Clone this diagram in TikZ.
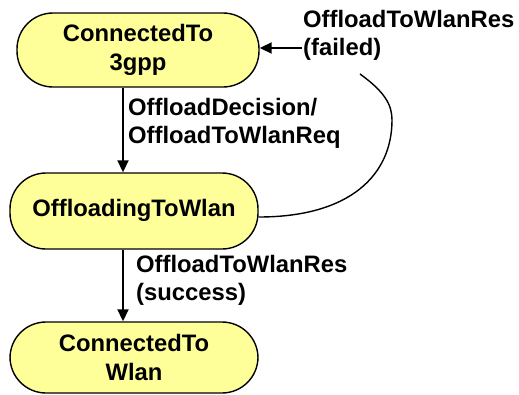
\documentclass[tikz,border=0pt]{standalone}
\usepackage{fontspec}
\setmainfont{Liberation Sans}
\usetikzlibrary{arrows.meta}
\definecolor{stfill}{RGB}{255,255,153}
\begin{document}
\begin{tikzpicture}[x=1pt,y=-1pt,
  state/.style={draw=black,line width=1.4pt,fill=stfill,rounded corners=36pt,
    inner sep=0pt,align=center,font=\fontsize{23.8}{29}\selectfont\bfseries},
  lbl/.style={anchor=west,inner sep=0pt,align=left,font=\fontsize{23.8}{28}\selectfont\bfseries},
  arr/.style={line width=1.8pt,-{Triangle[length=12pt,width=11pt]}}]
\useasboundingbox (0,0) rectangle (519,394);
\node[state,minimum width=242pt,minimum height=74pt] (c3) at (138,50) {ConnectedTo\\3gpp};
\node[state,minimum width=248pt,minimum height=76pt] (ow) at (134,211) {\raisebox{6pt}{OffloadingToWlan}};
\node[state,minimum width=248pt,minimum height=71pt] (cw) at (134,357.5) {ConnectedTo\\Wlan};
\draw[arr] (c3.south -| 123,0) -- (ow.north -| 123,0);
\draw[arr] (ow.south -| 123,0) -- (cw.north -| 123,0);
\node[lbl] (l1) at (128,123.5) {OffloadDecision/\\OffloadToWlanReq};
\node[lbl] (l2) at (136,280.5) {OffloadToWlanRes\\(success)};
\node[lbl] (l3) at (303,35) {OffloadToWlanRes\\(failed)};
\coordinate (fs) at (302,48);
\coordinate (cs) at (360,74);
\draw[arr] (fs) -- (c3.east |- fs);
\draw[line width=1.4pt] (cs) .. controls (385,92) and (392,105) .. (392,120)
  .. controls (392,175) and (350,217) .. (ow.east |- 0,217);
\end{tikzpicture}
\end{document}
